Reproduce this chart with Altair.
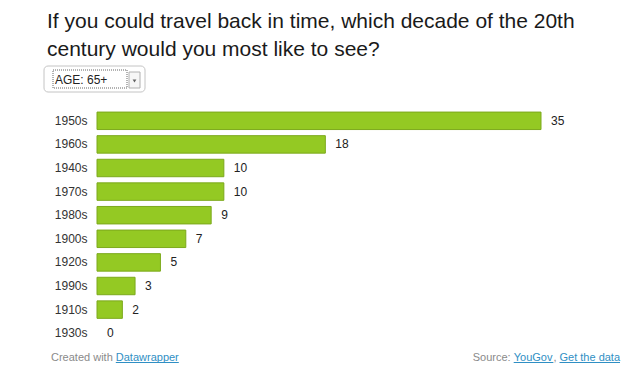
import altair as alt
import pandas as pd

decades = ["1950s", "1960s", "1940s", "1970s", "1980s", "1900s", "1920s", "1990s", "1910s", "1930s"]
values = [35, 18, 10, 10, 9, 7, 5, 3, 2, 0]
title_lines = ["If you could travel back in time, which decade of the 20th",
               "century would you most like to see?"]
dropdown_label = "AGE: 65+"

df = pd.DataFrame({"decade": decades, "value": values})
FONT = "Liberation Sans"
one = alt.Data(values=[{}])

base = alt.Chart(df)
y_enc = alt.Y("decade:N", sort=decades,
              scale=alt.Scale(paddingInner=0.26, paddingOuter=0.13),
              axis=alt.Axis(title=None, ticks=False, domain=False, labelPadding=10,
                            labelFontSize=12, labelFont=FONT, labelColor="#333"))
x_enc = alt.X("value:Q", scale=alt.Scale(domain=[0, 35], nice=False), axis=None)

bars = base.mark_bar(color="#94c923", stroke="#7ca91c", strokeWidth=1).encode(
    y=y_enc, x=x_enc,
    strokeOpacity=alt.condition("datum.value > 0", alt.value(1), alt.value(0)))
labels = base.mark_text(align="left", dx=10, fontSize=12, font=FONT, color="#222").encode(
    y=y_enc, x=x_enc, text="value:Q")

def txt(s, x, y, color, size=11):
    return alt.Chart(one).mark_text(align="left", baseline="alphabetic", font=FONT,
                                    fontSize=size, color=color).encode(
        x=alt.value(x), y=alt.value(y), text=alt.value(s))

def rule(x1, x2, y, color):
    return alt.Chart(one).mark_rule(color=color, strokeWidth=1).encode(
        x=alt.value(x1), x2=alt.value(x2), y=alt.value(y))

def box(x1, x2, y1, y2, **kw):
    return alt.Chart(one).mark_rect(**kw).encode(
        x=alt.value(x1), x2=alt.value(x2), y=alt.value(y1), y2=alt.value(y2))

gray = "#8a8a8a"
blue = "#2f8fc4"
deco = [
    box(-53, 48, -43, -17, fill="white", stroke="#c4c4c4", cornerRadius=4),
    box(-44, 30, -39, -21, fill="white", stroke="#666", strokeDash=[1, 1], strokeWidth=1),
    box(32, 43, -37, -21, fill="#f6f6f6", stroke="#b0b0b0"),
    alt.Chart(one).mark_point(shape="triangle-down", filled=True, color="#222", size=14).encode(
        x=alt.value(37.5), y=alt.value(-28)),
    txt(dropdown_label, -42, -25.5, "#222", 12),
    txt("Created with ", -46, 252, gray),
    txt("Datawrapper", 18.8, 252, blue),
    rule(18.8, 81.8, 253.5, blue),
    txt("Source: ", 375.7, 252, gray),
    txt("YouGov", 416.7, 252, blue),
    rule(416.7, 456.4, 253.5, blue),
    txt(", ", 456.4, 252, gray),
    txt("Get the data", 462.5, 252, blue),
    rule(462.5, 523, 253.5, blue),
]

chart = alt.layer(bars, labels, *deco).properties(
    width=444, height=236,
    title=alt.TitleParams(text=title_lines, anchor="start", frame="group", dx=-50,
                          fontSize=21, font=FONT, fontWeight="normal", color="#1a1a1a",
                          offset=6, lineHeight=28),
    autosize=alt.AutoSizeParams(type="none"),
    padding={"left": 89, "top": 101, "right": 91, "bottom": 20},
).configure_view(stroke=None)

chart.save("out.html", embed_options={"renderer": "svg", "actions": False})
